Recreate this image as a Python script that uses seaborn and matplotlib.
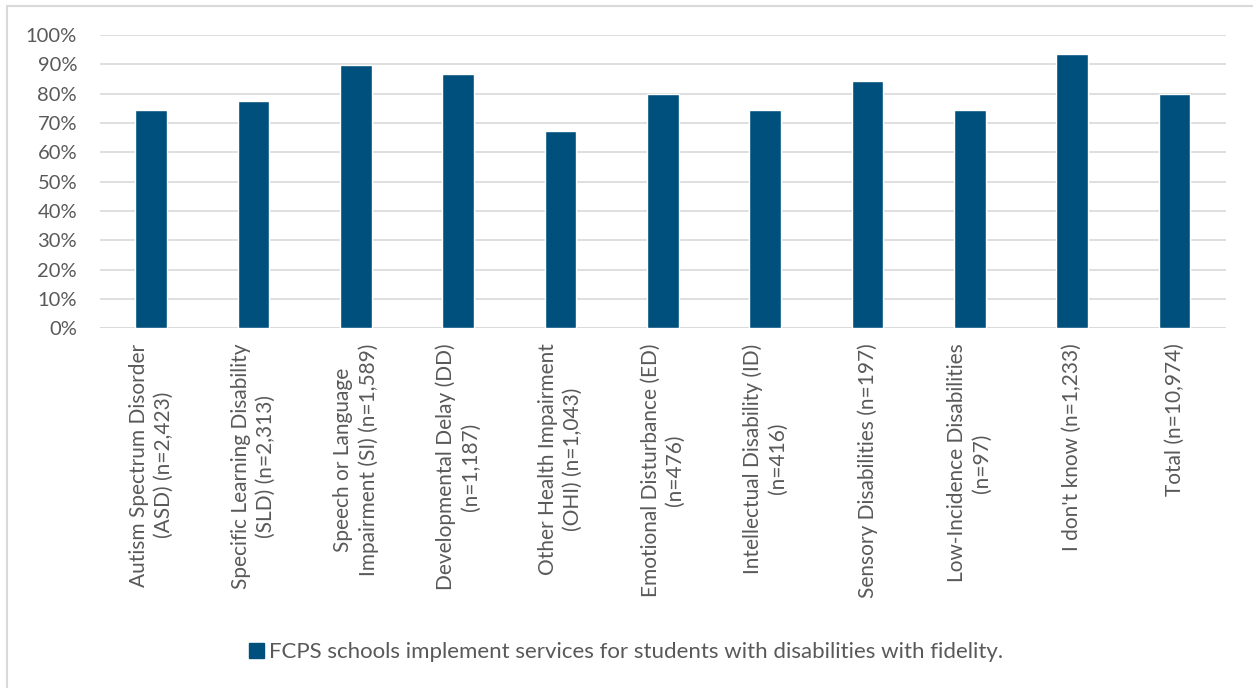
import matplotlib
matplotlib.use("Agg")
import matplotlib.pyplot as plt
import matplotlib.patches as mpatches
from matplotlib.ticker import PercentFormatter
import seaborn as sns
import pandas as pd

categories = [
    "Autism Spectrum Disorder\n(ASD) (n=2,423)",
    "Specific Learning Disability\n(SLD) (n=2,313)",
    "Speech or Language\nImpairment (SI) (n=1,589)",
    "Developmental Delay (DD)\n(n=1,187)",
    "Other Health Impairment\n(OHI) (n=1,043)",
    "Emotional Disturbance (ED)\n(n=476)",
    "Intellectual Disability (ID)\n(n=416)",
    "Sensory Disabilities (n=197)",
    "Low-Incidence Disabilities\n(n=97)",
    "I don't know (n=1,233)",
    "Total (n=10,974)",
]
values = [0.745, 0.775, 0.897, 0.868, 0.673, 0.800, 0.743, 0.842, 0.745, 0.935, 0.799]
series_name = "FCPS schools implement services for students with disabilities with fidelity."
y_ticks = [i / 10 for i in range(11)]

BAR_COLOR = "#00507d"
TEXT_COLOR = "#595959"
GRID_COLOR = "#d9d9d9"

sns.set_theme(style="white")
plt.rcParams["font.family"] = ["Lato", "DejaVu Sans"]

W, H = 1253, 688
fig = plt.figure(figsize=(W / 100, H / 100), dpi=100)
ax = fig.add_axes([100 / W, 1 - 328.3 / H, (1225.7 - 100) / W, (328.3 - 35) / H])

df = pd.DataFrame({"category": categories, "value": values})
sns.barplot(data=df, x="category", y="value", color=BAR_COLOR, saturation=1,
            width=0.31, ax=ax, zorder=3)

ax.set_ylim(0, 1)
ax.set_xlim(-0.5, len(categories) - 0.5)
ax.set_yticks(y_ticks)
ax.yaxis.set_major_formatter(PercentFormatter(1.0, decimals=0))
ax.grid(axis="y", color=GRID_COLOR, linewidth=1.2, zorder=0)
ax.set_axisbelow(True)
for s in ax.spines.values():
    s.set_visible(False)
ax.axhline(0, color=GRID_COLOR, linewidth=1.2, zorder=1)

ax.set_xlabel("")
ax.set_ylabel("")
ax.tick_params(axis="both", length=0, colors=TEXT_COLOR)
ax.tick_params(axis="x", pad=11, labelsize=15)
ax.tick_params(axis="y", pad=16.5, labelsize=14.5)
ax.set_xticks(range(len(categories)))
ax.set_xticklabels(categories, rotation=90, ha="center", va="top",
                   multialignment="center", linespacing=1.3)

handle = mpatches.Patch(color=BAR_COLOR)
fig.legend([handle], [series_name], loc="center", bbox_to_anchor=(0.5, 1 - 652 / H),
           frameon=False, fontsize=16, labelcolor=TEXT_COLOR,
           handlelength=0.65, handleheight=0.65, handletextpad=0.25)

# chart-area border
fig.patches.append(mpatches.Rectangle((6.5 / W, -0.1), 1.2, 1.1 - 6 / H,
                                      transform=fig.transFigure, fill=False,
                                      edgecolor=GRID_COLOR, linewidth=1.5))

fig.savefig("out.png", dpi=100, facecolor="white")
